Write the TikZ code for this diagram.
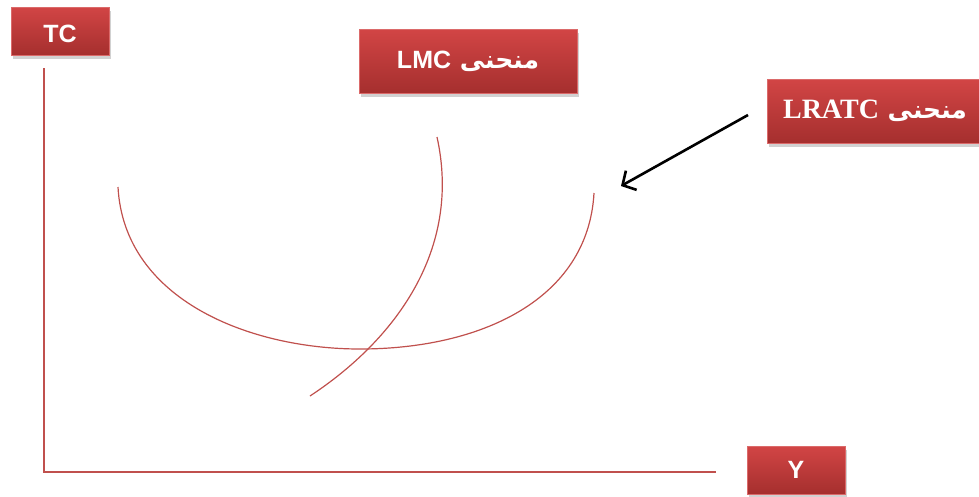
\documentclass[tikz,border=0pt]{standalone}
\usepackage{fontspec}
\setmainfont{Liberation Sans}
\newfontfamily\arabicfont[Script=Arabic]{DejaVu Sans}
\newfontfamily\timesfont{Liberation Serif}
\TeXXeTstate=1
\usetikzlibrary{arrows.meta,shadows}
\definecolor{boxtop}{HTML}{D24545}
\definecolor{boxbot}{HTML}{A52F2E}
\definecolor{curve}{HTML}{C0504D}
\tikzset{
  redbox/.style={draw=boxtop!80!white, line width=0.6pt, top color=boxtop, bottom color=boxbot,
    text=white, font=\bfseries\fontsize{25}{28}\selectfont, inner sep=0pt,
    drop shadow={shadow xshift=2pt, shadow yshift=-4pt, opacity=0.3, fill=black!60}},
  axis/.style={draw=curve, line width=1.3pt},
  curveline/.style={draw=curve, line width=1.2pt},
  pointer/.style={draw=black, line width=2.6pt, -{Straight Barb[length=10pt,width=22pt,line width=2.6pt]}}
}
\begin{document}
\begin{tikzpicture}[x=1pt,y=-1pt]
\useasboundingbox (0,0) rectangle (979,496);
% boxes
\node[redbox, minimum width=98pt, minimum height=48pt, text height=22pt, text depth=0pt] (tc) at (60,31) {TC};
\node[redbox, minimum width=218pt, minimum height=64pt] (lmc) at (468,61)
  {\arabicfont\beginR منحنی \beginL\fontspec{Liberation Sans}\bfseries LMC\endL\endR};
\node[redbox, minimum width=216pt, minimum height=64pt] (lratc) at (875,111)
  {\arabicfont\beginR منحنی \beginL\timesfont\bfseries\fontsize{28}{30}\selectfont LRATC\endL\endR};
\node[redbox, minimum width=98pt, minimum height=48pt] (yb) at (796,470) {Y};
% axes
\coordinate (o) at (44,472);
\coordinate (ytop) at (44,68);
\coordinate (xend) at (716,472);
\draw[axis] (ytop) -- (o) -- (xend);
% LRATC curve
\coordinate (l1) at (118,187);
\coordinate (lmin) at (360,349);
\coordinate (l2) at (594,193);
\draw[curveline] (l1) .. controls (124,300) and (250,349) .. (lmin)
  .. controls (480,349) and (588,300) .. (l2);
% LMC curve
\coordinate (m1) at (310,396);
\coordinate (m2) at (437,137);
\draw[curveline] (m1) .. controls (395,340) and (462,250) .. (m2);
% arrow
\coordinate (a1) at (748,115);
\coordinate (a2) at (621,186);
\draw[pointer] (a1) -- (a2);
\end{tikzpicture}
\end{document}
